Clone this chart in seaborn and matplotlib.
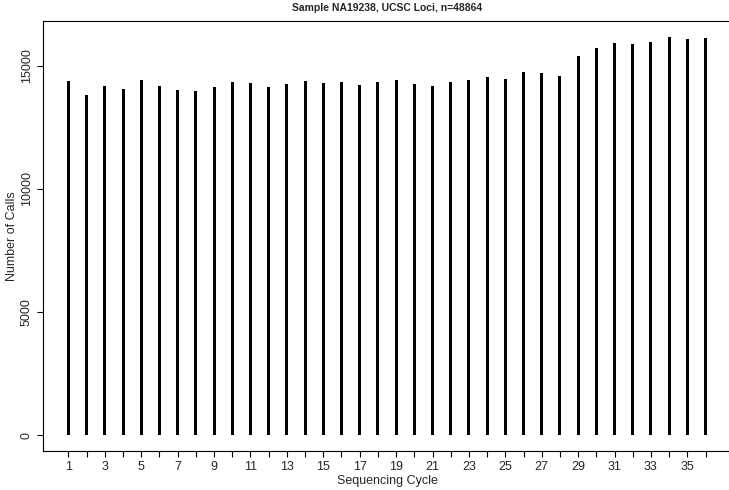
import matplotlib
matplotlib.use("Agg")
import matplotlib.pyplot as plt
import seaborn as sns
import pandas as pd

cycles = list(range(1, 37))
calls = [14378, 13810, 14187, 14066, 14430, 14175, 14013, 13985, 14147, 14350,
         14309, 14134, 14255, 14378, 14296, 14350, 14215, 14336, 14417, 14255,
         14175, 14350, 14404, 14540, 14459, 14743, 14689, 14593, 15415, 15740,
         15916, 15903, 15957, 16173, 16092, 16121]
title = "Sample NA19238, UCSC Loci, n=48864"

df = pd.DataFrame({"cycle": cycles, "calls": calls})

sns.set_style("ticks")
plt.rcParams['font.family'] = ['Liberation Sans', 'DejaVu Sans']

fig = plt.figure(figsize=(7.29, 4.90), dpi=100)
ax = fig.add_axes([43 / 729, 39 / 490, 688 / 729, 430 / 490])

sns.barplot(data=df, x="cycle", y="calls", native_scale=True, width=0.16,
            color="black", edgecolor="black", linewidth=0, ax=ax)

ymax = max(calls)
ax.set_xlim(-0.4, 37.4)
ax.set_ylim(-0.04 * ymax, 1.04 * ymax)

ax.set_xticks(cycles)
ax.set_xticklabels([str(c) if c % 2 == 1 else "" for c in cycles])
ax.set_yticks([0, 5000, 10000, 15000])
ax.set_yticklabels(["0", "5000", "10000", "15000"], rotation=90, va="center")

ax.tick_params(axis="both", direction="out", length=4.5, width=0.8, color="black",
               labelsize=9, pad=3)
for s in ax.spines.values():
    s.set_visible(True)
    s.set_linewidth(0.8)
    s.set_color("black")

ax.set_xlabel("Sequencing Cycle", fontsize=9, labelpad=1)
ax.set_ylabel("Number of Calls", fontsize=9, labelpad=2)
ax.set_title(title, fontsize=7.5, fontweight="bold", pad=7, x=(387 - 43) / 688)

fig.savefig("out.png", dpi=100)
